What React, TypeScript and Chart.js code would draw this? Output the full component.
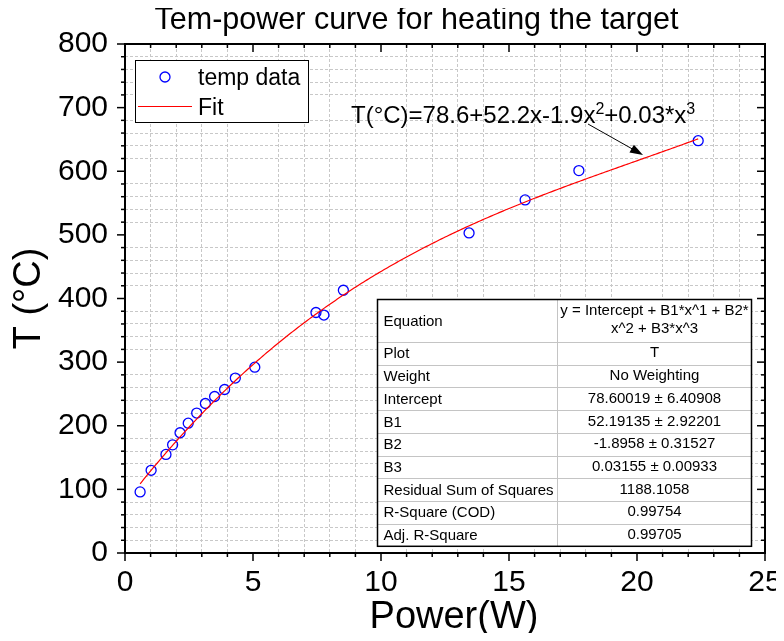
import { useEffect, useRef } from 'react';
import { Chart, registerables } from 'chart.js';

Chart.register(...registerables);

// Measured heating power (W) and target temperature (°C)
const powerW = [0.59, 1.02, 1.6, 1.86, 2.15, 2.47, 2.8, 3.14, 3.5, 3.89, 4.31, 5.07, 7.46, 7.77, 8.53, 13.44, 15.63, 17.73, 22.39];
const tempC = [96, 130, 155, 170, 189, 204, 220, 235, 246, 257, 275, 292, 378, 374, 413, 503, 555, 601, 648];

// Cubic fit coefficients: Intercept, B1, B2, B3
const fitCoefficients = [78.60019, 52.19135, -1.8958, 0.03155];

// Fit report table
const tableLabels = ['Plot', 'Weight', 'Intercept', 'B1', 'B2', 'B3', 'Residual Sum of Squares', 'R-Square (COD)', 'Adj. R-Square'];
const tableValues = ['T', 'No Weighting', '78.60019 ± 6.40908', '52.19135 ± 2.92201', '-1.8958 ± 0.31527', '0.03155 ± 0.00933', '1188.1058', '0.99754', '0.99705'];
const equationLines = ['y = Intercept + B1*x^1 + B2*', 'x^2 + B3*x^3'];

const xMajorStep = 5;
const yMajorStep = 100;

// the canvas fills the whole 784x641 view
const CANVAS_W = 784;
const CANVAS_H = 641;

const FONT = '"Liberation Sans", Arial, Helvetica, sans-serif';

const evalFit = (x: number) =>
  fitCoefficients.reduce((sum, c, i) => sum + c * Math.pow(x, i), 0);

const scatterPoints = powerW.map((x, i) => ({ x, y: tempC[i] }));

const fitPoints = (() => {
  const lo = Math.min(...powerW);
  const hi = Math.max(...powerW);
  const n = 300;
  const pts: { x: number; y: number }[] = [];
  for (let i = 0; i <= n; i++) {
    const x = lo + ((hi - lo) * i) / n;
    pts.push({ x, y: evalFit(x) });
  }
  return pts;
})();

const decorPlugin = {
  id: 'decor',
  afterDraw(chart: any) {
    const { ctx, chartArea: a, scales } = chart;
    const xs = scales.x;
    const ys = scales.y;
    const seg = (x1: number, y1: number, x2: number, y2: number) => {
      ctx.beginPath();
      ctx.moveTo(x1, y1);
      ctx.lineTo(x2, y2);
      ctx.stroke();
    };
    ctx.save();

    // plot frame
    ctx.strokeStyle = '#000';
    ctx.lineWidth = 2;
    ctx.strokeRect(a.left, a.top, a.right - a.left, a.bottom - a.top);

    // tick marks: outward on bottom/left, inward on top/right
    ctx.lineWidth = 1.5;
    ctx.fillStyle = '#000';
    ctx.font = `30px ${FONT}`;
    ctx.textAlign = 'center';
    ctx.textBaseline = 'middle';
    xs.ticks.forEach((t: any) => {
      const px = xs.getPixelForValue(t.value);
      const major = t.value % xMajorStep === 0;
      const len = major ? 8 : 4;
      seg(px, a.bottom, px, a.bottom + len);
      seg(px, a.top, px, a.top + len);
      // bottom tick labels
      if (major) ctx.fillText(String(t.value), px, a.bottom + 30);
    });
    ys.ticks.forEach((t: any) => {
      const py = ys.getPixelForValue(t.value);
      const len = t.value % yMajorStep === 0 ? 8 : 4;
      seg(a.left - len, py, a.left, py);
      seg(a.right - len, py, a.right, py);
    });

    // chart title
    ctx.textBaseline = 'alphabetic';
    ctx.font = `30.5px ${FONT}`;
    ctx.fillText('Tem-power curve for heating the target', 416.5, 29);

    // axis titles
    ctx.font = `38px ${FONT}`;
    ctx.fillText('Power(W)', 454, 628);
    ctx.save();
    ctx.translate(40, (a.top + a.bottom) / 2);
    ctx.rotate(-Math.PI / 2);
    ctx.fillText('T (°C)', 0, 0);
    ctx.restore();

    // legend
    ctx.fillStyle = '#fff';
    ctx.fillRect(135, 60, 173, 62);
    ctx.strokeStyle = '#000';
    ctx.lineWidth = 1;
    ctx.strokeRect(135.5, 60.5, 173, 62);
    ctx.strokeStyle = '#0000ff';
    ctx.lineWidth = 1.3;
    ctx.beginPath();
    ctx.arc(165, 77, 5, 0, Math.PI * 2);
    ctx.stroke();
    ctx.strokeStyle = '#ff0000';
    ctx.lineWidth = 1.2;
    seg(138, 106.5, 192, 106.5);
    ctx.fillStyle = '#000';
    ctx.textAlign = 'left';
    ctx.font = `23px ${FONT}`;
    ctx.fillText('temp data', 198, 85);
    ctx.fillText('Fit', 198, 115);

    // equation annotation with superscripts
    const parts: [string, boolean][] = [
      ['T(°C)=78.6+52.2x-1.9x', false],
      ['2', true],
      ['+0.03*x', false],
      ['3', true],
    ];
    let tx = 351;
    const base = 123;
    parts.forEach(([s, sup]) => {
      ctx.font = sup ? `16px ${FONT}` : `24px ${FONT}`;
      ctx.fillText(s, tx, sup ? base - 9 : base);
      tx += ctx.measureText(s).width;
    });
    // arrow to the fit curve
    const ax1 = 588, ay1 = 124, ax2 = 643, ay2 = 155;
    ctx.strokeStyle = '#000';
    ctx.lineWidth = 1;
    seg(ax1, ay1, ax2 - 6, ay2 - 3.4);
    const ang = Math.atan2(ay2 - ay1, ax2 - ax1);
    ctx.beginPath();
    ctx.moveTo(ax2, ay2);
    ctx.lineTo(ax2 - 13 * Math.cos(ang) + 4.5 * Math.sin(ang), ay2 - 13 * Math.sin(ang) - 4.5 * Math.cos(ang));
    ctx.lineTo(ax2 - 13 * Math.cos(ang) - 4.5 * Math.sin(ang), ay2 - 13 * Math.sin(ang) + 4.5 * Math.cos(ang));
    ctx.closePath();
    ctx.fillStyle = '#000';
    ctx.fill();

    // fit report table
    const tl = 377.5, tr = 751.5, tt = 299.5, hb = 342, rowH = 22.7, div = 557.5;
    const tb = hb + rowH * tableLabels.length;
    ctx.fillStyle = '#fff';
    ctx.fillRect(tl, tt, tr - tl, tb - tt);
    ctx.strokeStyle = '#c4c4c4';
    ctx.lineWidth = 1;
    seg(div, tt, div, tb);
    for (let i = 0; i < tableLabels.length; i++) {
      const yy = Math.round(hb + rowH * i) + 0.5;
      seg(tl, yy, tr, yy);
    }
    ctx.strokeStyle = '#000';
    ctx.lineWidth = 1.5;
    ctx.strokeRect(tl, tt, tr - tl, tb - tt);

    ctx.fillStyle = '#000';
    ctx.font = `15px ${FONT}`;
    ctx.textBaseline = 'middle';
    ctx.textAlign = 'left';
    ctx.fillText('Equation', tl + 6, (tt + hb) / 2 + 1);
    ctx.textAlign = 'center';
    const cx = (div + tr) / 2;
    ctx.fillText(equationLines[0], cx, tt + 11);
    ctx.fillText(equationLines[1], cx, tt + 29);
    tableLabels.forEach((lab, i) => {
      const yy = hb + rowH * (i + 0.5) + 1;
      ctx.textAlign = 'left';
      ctx.fillText(lab, tl + 6, yy);
      ctx.textAlign = 'center';
      ctx.fillText(tableValues[i], cx, yy - 1);
    });

    ctx.restore();
  },
};

const gridColor = (step: number) => (c: any) => {
  const v = c.tick ? c.tick.value : 0;
  return v % step === 0 ? 'rgba(0,0,0,0)' : '#c8c8c8';
};

export default function App() {
  const ref = useRef<HTMLCanvasElement>(null);

  useEffect(() => {
    if (!ref.current) return;
    const chart = new Chart(ref.current, {
      type: 'scatter',
      data: {
        datasets: [
          {
            label: 'temp data',
            data: scatterPoints,
            showLine: false,
            pointRadius: 5,
            pointHoverRadius: 5,
            pointBorderWidth: 1.3,
            pointBorderColor: '#0000ff',
            pointBackgroundColor: 'rgba(0,0,0,0)',
            borderColor: '#0000ff',
            backgroundColor: 'rgba(0,0,0,0)',
            order: 2,
          },
          {
            label: 'Fit',
            data: fitPoints,
            showLine: true,
            pointRadius: 0,
            borderColor: '#ff0000',
            borderWidth: 1.2,
            fill: false,
            order: 1,
          } as any,
        ],
      },
      options: {
        responsive: false,
        animation: false,
        events: [],
        layout: { padding: { top: 44, right: CANVAS_W - 765, left: 8, bottom: 8 } },
        plugins: {
          legend: { display: false },
          title: { display: false },
          tooltip: { enabled: false },
        },
        scales: {
          x: {
            type: 'linear',
            min: 0,
            max: 25,
            afterFit: (s: any) => {
              s.height = 80;
              s.paddingLeft = 0;
              s.paddingRight = 0;
            },
            ticks: {
              stepSize: 1,
              autoSkip: false,
              maxRotation: 0,
              display: false,
            },
            grid: {
              color: gridColor(xMajorStep),
              lineWidth: 1,
              drawTicks: false,
              borderDash: [3, 2],
            } as any,
            border: { display: false, dash: [3, 2] },
          },
          y: {
            type: 'linear',
            min: 0,
            max: 800,
            afterFit: (s: any) => {
              s.width = 117;
              s.paddingTop = 0;
              s.paddingBottom = 0;
            },
            ticks: {
              stepSize: 20,
              autoSkip: false,
              padding: 17,
              color: '#000',
              font: { family: FONT, size: 30 },
              callback: (v: any) => (Number(v) % yMajorStep === 0 ? String(v) : ''),
            },
            grid: {
              color: gridColor(yMajorStep),
              lineWidth: 1,
              drawTicks: false,
              borderDash: [3, 2],
            } as any,
            border: { display: false, dash: [3, 2] },
          },
        },
      },
      plugins: [decorPlugin],
    });
    return () => chart.destroy();
  }, []);

  return (
    <div style={{ width: CANVAS_W, height: CANVAS_H, margin: -8 }}>
      <canvas ref={ref} width={CANVAS_W} height={CANVAS_H} style={{ display: 'block' }} />
    </div>
  );
}
